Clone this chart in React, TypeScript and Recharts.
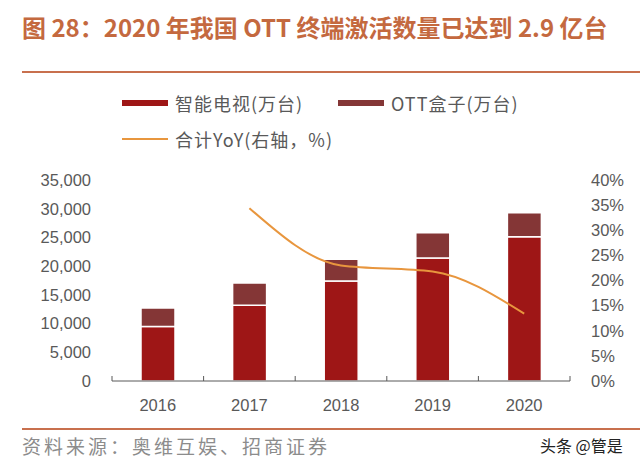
import { ComposedChart, Bar, Line, XAxis, YAxis, Legend } from "recharts";

const YEARS = ["2016", "2017", "2018", "2019", "2020"];
const SMART_TV = [9500, 13200, 17400, 21400, 25100];
const OTT_BOX = [3200, 3850, 3800, 4400, 4200];
const YOY = [null, 34.4, 23.0, 21.8, 13.4];
const LEFT_TICKS = [0, 5000, 10000, 15000, 20000, 25000, 30000, 35000];
const RIGHT_TICKS = [0, 5, 10, 15, 20, 25, 30, 35, 40];

const RED = "#9e1616";
const BROWN = "#843636";
const ORANGE = "#e8963e";
const TITLE = "#c4693f";
const AXIS = "#595959";
const SANS = "'Liberation Sans', Arial, sans-serif";
const CJK = "'Noto Sans CJK SC', sans-serif";

const data = YEARS.map((year, i) => ({
  year,
  tv: SMART_TV[i],
  box: OTT_BOX[i],
  yoy: YOY[i],
}));

const tickStyle = { fontSize: 16.5, fontFamily: SANS, fill: AXIS };

// where each legend entry sits, keyed by series
const legendSpots: Record<string, { left: number; top: number }> = {
  tv: { left: 122, top: 0 },
  box: { left: 338, top: 0 },
  yoy: { left: 122, top: 36 },
};

function LegendBox({ payload }: any) {
  return (
    <div style={{ position: "relative", width: 640, height: 60 }}>
      {(payload || []).map((p: any) => (
        <div key={p.dataKey} style={{ position: "absolute", ...legendSpots[p.dataKey], display: "flex", alignItems: "center", height: 26 }}>
          <span style={{ display: "inline-block", width: 46, height: p.type === "line" ? 2 : 6, background: p.color, marginRight: 7 }} />
          <span style={{ fontFamily: CJK, fontSize: 18, letterSpacing: 1, color: AXIS, whiteSpace: "nowrap" }}>{p.value}</span>
        </div>
      ))}
    </div>
  );
}

function YearTick(props: any) {
  const { x, y, payload } = props;
  const off = payload.offset || 0;
  const last = payload.value === YEARS[YEARS.length - 1];
  return (
    <g>
      <line x1={x - off} x2={x - off} y1={y} y2={y - 5} stroke={AXIS} strokeWidth={1} />
      {last && <line x1={x + off} x2={x + off} y1={y} y2={y - 5} stroke={AXIS} strokeWidth={1} />}
      <text x={x} y={y + 30} textAnchor="middle" style={tickStyle} fill={AXIS}>{payload.value}</text>
    </g>
  );
}

export default function App() {
  return (
    <div style={{ position: "absolute", left: 0, top: 0, width: 640, height: 464, background: "#fff", overflow: "hidden" }}>
      <div style={{ position: "absolute", left: 22, top: 9, fontFamily: CJK, fontWeight: 700, fontSize: 24, color: TITLE, whiteSpace: "nowrap" }}>
        图 28：2020 年我国 OTT 终端激活数量已达到 2.9 亿台
      </div>
      <div style={{ position: "absolute", left: 22, top: 71, width: 618, height: 2, background: "#c8704e" }} />

      <ComposedChart width={640} height={464} data={data} margin={{ top: 180, right: 20, left: 0, bottom: 53 }}>
        <XAxis
          dataKey="year"
          height={30}
          axisLine={{ stroke: AXIS }}
          tickLine={false}
          tickSize={0}
          tickMargin={0}
          tick={<YearTick />}
        />
        <YAxis
          yAxisId="left"
          width={112}
          domain={[0, 35000]}
          ticks={LEFT_TICKS}
          axisLine={false}
          tickLine={false}
          tickMargin={15}
          tick={tickStyle}
          tickFormatter={(v: number) => v.toLocaleString("en-US")}
        />
        <YAxis
          yAxisId="right"
          orientation="right"
          width={50}
          domain={[0, 40]}
          ticks={RIGHT_TICKS}
          axisLine={false}
          tickLine={false}
          tickMargin={15}
          tick={tickStyle}
          tickFormatter={(v: number) => `${v}%`}
        />
        <Legend
          layout="horizontal"
          verticalAlign="middle"
          align="center"
          wrapperStyle={{ top: 90, left: 0, width: 640 }}
          content={<LegendBox />}
        />
        <Bar yAxisId="left" dataKey="tv" name="智能电视(万台)" stackId="a" fill={RED} stroke="#fff" strokeWidth={1.5} barSize={34} isAnimationActive={false} />
        <Bar yAxisId="left" dataKey="box" name="OTT盒子(万台)" stackId="a" fill={BROWN} stroke="#fff" strokeWidth={1.5} barSize={34} isAnimationActive={false} />
        <Line yAxisId="right" type="monotone" dataKey="yoy" name="合计YoY(右轴，%)" stroke={ORANGE} strokeWidth={2} dot={false} legendType="line" isAnimationActive={false} />
      </ComposedChart>

      <div style={{ position: "absolute", left: 22, top: 428, width: 618, height: 2, background: "#c8704e" }} />
      <div style={{ position: "absolute", left: 22, top: 432, fontFamily: CJK, fontSize: 19, color: "#8c8c8c", letterSpacing: 3, whiteSpace: "nowrap" }}>
        资料来源：奥维互娱、招商证券
      </div>
      <div style={{ position: "absolute", left: 540, top: 433, fontFamily: CJK, fontSize: 16, color: "#222", whiteSpace: "nowrap" }}>
        头条 @管是
      </div>
    </div>
  );
}
